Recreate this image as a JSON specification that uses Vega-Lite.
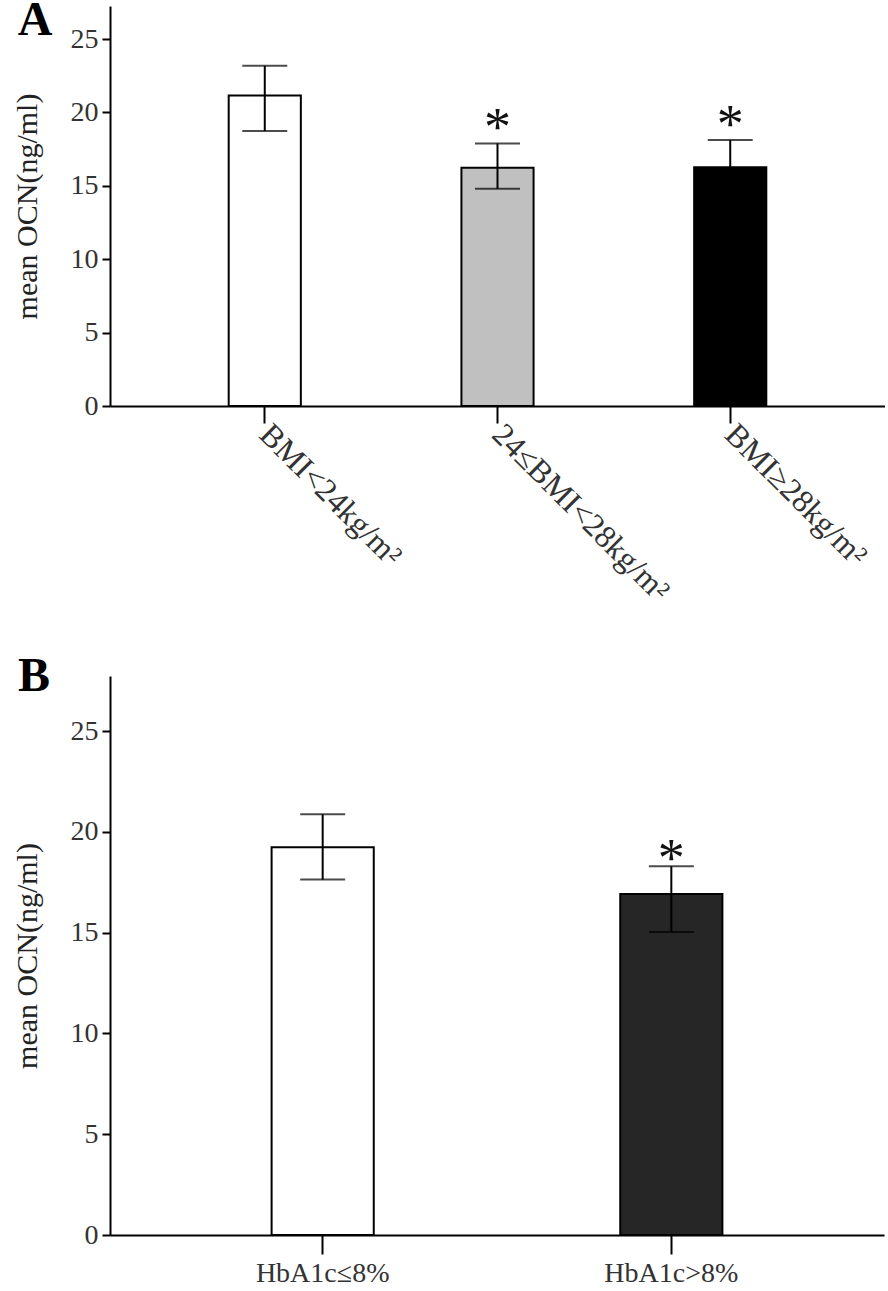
{
  "$schema": "https://vega.github.io/schema/vega-lite/v6.json",
  "background": "white",
  "padding": {"left": 12, "top": -3, "right": 0, "bottom": 0},
  "spacing": 45,
  "resolve": {"scale": {"color": "independent", "x": "independent", "y": "independent"}},
  "config": {
    "view": {"stroke": null},
    "font": "Liberation Serif",
    "axis": {
      "grid": false,
      "domainColor": "black",
      "domainWidth": 2,
      "tickColor": "black",
      "tickWidth": 2,
      "labelFont": "Liberation Serif",
      "labelFontSize": 28,
      "labelColor": "#333333",
      "labelLimit": 0,
      "titleFont": "Liberation Serif",
      "titleFontWeight": "normal",
      "titleFontSize": 30,
      "titleColor": "#222222"
    }
  },
  "vconcat": [
    {
      "width": 775,
      "height": 400,
      "resolve": {"scale": {"x": "independent"}},
      "layer": [
        {
          "data": {"values": [
            {"group": "BMI<24kg/m²", "mean": 21.16, "lo": 18.73, "hi": 23.18, "sig": ""},
            {"group": "24≤BMI<28kg/m²", "mean": 16.23, "lo": 14.8, "hi": 17.89, "sig": "*"},
            {"group": "BMI≥28kg/m²", "mean": 16.26, "lo": 14.4, "hi": 18.12, "sig": "*"}
          ]},
          "encoding": {
            "x": {"field": "group", "type": "nominal", "sort": null,
                  "scale": {"paddingInner": 0.69, "paddingOuter": 0.51},
                  "axis": {"title": null, "labelAngle": 45, "labelAlign": "left", "labelBaseline": "middle", "tickSize": 17, "labelPadding": 6, "labelFontSize": 32}}
          },
          "layer": [
            {
              "mark": {"type": "bar", "stroke": "black", "strokeWidth": 2},
              "encoding": {
                "y": {"field": "mean", "type": "quantitative", "scale": {"domain": [0, 27.25], "nice": false},
                      "axis": {"title": "mean OCN(ng/ml)", "values": [0, 5, 10, 15, 20, 25], "tickSize": 8, "labelPadding": 4, "titlePadding": 28}},
                "color": {"field": "group", "type": "nominal", "sort": null,
                          "scale": {"domain": ["BMI<24kg/m²", "24≤BMI<28kg/m²", "BMI≥28kg/m²"], "range": ["#ffffff", "#c0c0c0", "#000000"]},
                          "legend": null}
              }
            },
            {
              "mark": {"type": "rule", "color": "black", "strokeWidth": 2},
              "encoding": {"y": {"field": "lo", "type": "quantitative"}, "y2": {"field": "hi"}}
            },
            {
              "mark": {"type": "tick", "color": "black", "size": 45, "thickness": 2},
              "encoding": {"y": {"field": "hi", "type": "quantitative"}}
            },
            {
              "mark": {"type": "tick", "color": "black", "size": 45, "thickness": 2},
              "encoding": {"y": {"field": "lo", "type": "quantitative"}}
            },
            {
              "mark": {"type": "text", "fontSize": 54, "color": "#111111", "baseline": "alphabetic", "dy": 2},
              "encoding": {"y": {"field": "hi", "type": "quantitative"}, "text": {"field": "sig"}}
            }
          ]
        },
        {
          "data": {"values": [{"panel": "A"}]},
          "mark": {"type": "text", "font": "Liberation Serif", "fontSize": 48, "fontWeight": "bold", "color": "black", "align": "left", "baseline": "alphabetic"},
          "encoding": {
            "x": {"datum": -0.119, "type": "quantitative", "scale": {"domain": [0, 1], "nice": false, "zero": false}, "axis": null},
            "y": {"datum": 25.27, "type": "quantitative"},
            "text": {"field": "panel"}
          }
        }
      ]
    },
    {
      "width": 774,
      "height": 559,
      "resolve": {"scale": {"x": "independent"}},
      "layer": [
        {
          "data": {"values": [
            {"group": "HbA1c≤8%", "mean": 19.24, "lo": 17.63, "hi": 20.87, "sig": ""},
            {"group": "HbA1c>8%", "mean": 16.92, "lo": 15.03, "hi": 18.29, "sig": "*"}
          ]},
          "encoding": {
            "x": {"field": "group", "type": "nominal", "sort": null,
                  "scale": {"paddingInner": 0.707, "paddingOuter": 0.4635},
                  "axis": {"title": null, "labelAngle": 0, "tickSize": 19, "labelPadding": 5, "labelFontSize": 28}}
          },
          "layer": [
            {
              "mark": {"type": "bar", "stroke": "black", "strokeWidth": 2},
              "encoding": {
                "y": {"field": "mean", "type": "quantitative", "scale": {"domain": [0, 27.73], "nice": false},
                      "axis": {"title": "mean OCN(ng/ml)", "values": [0, 5, 10, 15, 20, 25], "tickSize": 8, "labelPadding": 4, "titlePadding": 28}},
                "color": {"field": "group", "type": "nominal", "sort": null,
                          "scale": {"domain": ["HbA1c≤8%", "HbA1c>8%"], "range": ["#ffffff", "#262626"]},
                          "legend": null}
              }
            },
            {
              "mark": {"type": "rule", "color": "black", "strokeWidth": 2},
              "encoding": {"y": {"field": "lo", "type": "quantitative"}, "y2": {"field": "hi"}}
            },
            {
              "mark": {"type": "tick", "color": "black", "size": 45, "thickness": 2},
              "encoding": {"y": {"field": "hi", "type": "quantitative"}}
            },
            {
              "mark": {"type": "tick", "color": "black", "size": 45, "thickness": 2},
              "encoding": {"y": {"field": "lo", "type": "quantitative"}}
            },
            {
              "mark": {"type": "text", "fontSize": 54, "color": "#111111", "baseline": "alphabetic", "dy": 10},
              "encoding": {"y": {"field": "hi", "type": "quantitative"}, "text": {"field": "sig"}}
            }
          ]
        },
        {
          "data": {"values": [{"panel": "B"}]},
          "mark": {"type": "text", "font": "Liberation Serif", "fontSize": 48, "fontWeight": "bold", "color": "black", "align": "left", "baseline": "alphabetic"},
          "encoding": {
            "x": {"datum": -0.119, "type": "quantitative", "scale": {"domain": [0, 1], "nice": false, "zero": false}, "axis": null},
            "y": {"datum": 26.99, "type": "quantitative"},
            "text": {"field": "panel"}
          }
        }
      ]
    }
  ]
}
